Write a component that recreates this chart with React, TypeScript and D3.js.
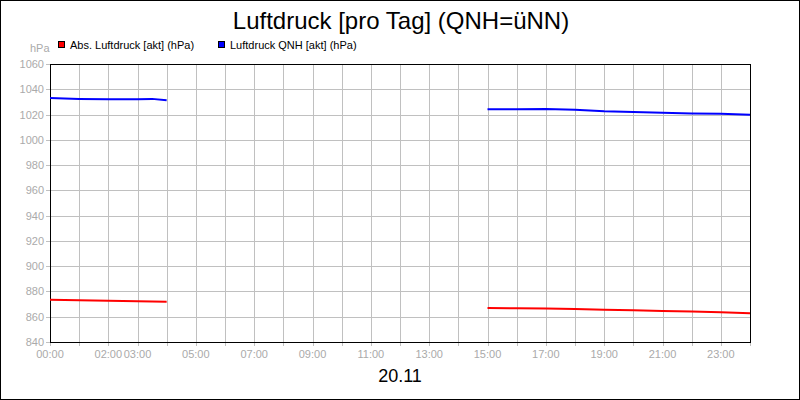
import React from "react";
import * as d3 from "d3";

const hours1 = [0, 1, 2, 3, 3.5, 4];
const absPressure1 = [873.4, 873.0, 872.6, 872.3, 872.1, 871.8];
const qnhPressure1 = [1033.1, 1032.4, 1032.1, 1032.2, 1032.4, 1031.3];

const hours2 = [15, 16, 17, 18, 19, 20, 21, 22, 23, 24];
const absPressure2 = [866.9, 866.7, 866.5, 866.1, 865.6, 865.2, 864.6, 864.1, 863.6, 862.8];
const qnhPressure2 = [1024.1, 1024.2, 1024.4, 1023.8, 1022.6, 1022.0, 1021.4, 1020.8, 1020.6, 1019.8];

const yTicks = [840, 860, 880, 900, 920, 940, 960, 980, 1000, 1020, 1040, 1060];
const xLabelHours = [0, 2, 3, 5, 7, 9, 11, 13, 15, 17, 19, 21, 23];
const title = "Luftdruck [pro Tag] (QNH=üNN)";
const dateLabel = "20.11";
const unitLabel = "hPa";
const seriesNames = ["Abs. Luftdruck [akt] (hPa)", "Luftdruck QNH [akt] (hPa)"];
const seriesColors = ["#ff0000", "#0000ff"];

const W = 800, H = 400;
const left = 50, right = 750, top = 64, bottom = 342;
const font = "'Liberation Sans', Arial, sans-serif";

export default function App() {
  const x = d3.scaleLinear().domain([0, 24]).range([left, right]);
  const y = d3.scaleLinear().domain([840, 1060]).range([bottom, top]);
  const line = d3.line<[number, number]>().x(d => x(d[0])).y(d => y(d[1]));
  const segs = [
    { c: seriesColors[0], pts: hours1.map((h, i) => [h, absPressure1[i]] as [number, number]) },
    { c: seriesColors[0], pts: hours2.map((h, i) => [h, absPressure2[i]] as [number, number]) },
    { c: seriesColors[1], pts: hours1.map((h, i) => [h, qnhPressure1[i]] as [number, number]) },
    { c: seriesColors[1], pts: hours2.map((h, i) => [h, qnhPressure2[i]] as [number, number]) },
  ];
  const hourGrid = d3.range(0, 25);
  const pad = (h: number) => (h < 10 ? "0" : "") + h + ":00";
  return (
    <svg width={W} height={H} style={{ position: "absolute", left: 0, top: 0, display: "block" }} fontFamily={font}>
      <rect x={0.5} y={0.5} width={W - 1} height={H - 1} fill="#fff" stroke="#000" />
      <text x={401} y={29} fontSize={24} textAnchor="middle" fill="#000">{title}</text>
      {seriesNames.map((n, i) => (
        <g key={n}>
          <rect x={58.5 + i * 160} y={41.5} width={6} height={6} fill={seriesColors[i]} stroke="#000" />
          <text x={70 + i * 160} y={48.5} fontSize={11} fill="#000">{n}</text>
        </g>
      ))}
      <text x={30} y={52} fontSize={11} fill="#aaa">{unitLabel}</text>
      {hourGrid.map(h => (
        <line key={"vg" + h} x1={Math.round(x(h)) + 0.5} x2={Math.round(x(h)) + 0.5} y1={top} y2={bottom + 4} stroke="#c0c0c0" />
      ))}
      {yTicks.map(v => (
        <g key={"hg" + v}>
          <line x1={left - 4} x2={right} y1={Math.round(y(v)) + 0.5} y2={Math.round(y(v)) + 0.5} stroke="#c0c0c0" />
          <text x={44} y={y(v) + 4} fontSize={11} textAnchor="end" fill="#aaa">{v}</text>
        </g>
      ))}
      {xLabelHours.map(h => (
        <text key={"xl" + h} x={x(h)} y={358} fontSize={11} textAnchor="middle" fill="#aaa">{pad(h)}</text>
      ))}
      <rect x={left + 0.5} y={top + 0.5} width={right - left} height={bottom - top} fill="none" stroke="#000" />
      {segs.map((s, i) => (
        <path key={"s" + i} d={line(s.pts) || ""} fill="none" stroke={s.c} strokeWidth={2} />
      ))}
      <text x={400} y={382} fontSize={18} textAnchor="middle" fill="#000">{dateLabel}</text>
    </svg>
  );
}
